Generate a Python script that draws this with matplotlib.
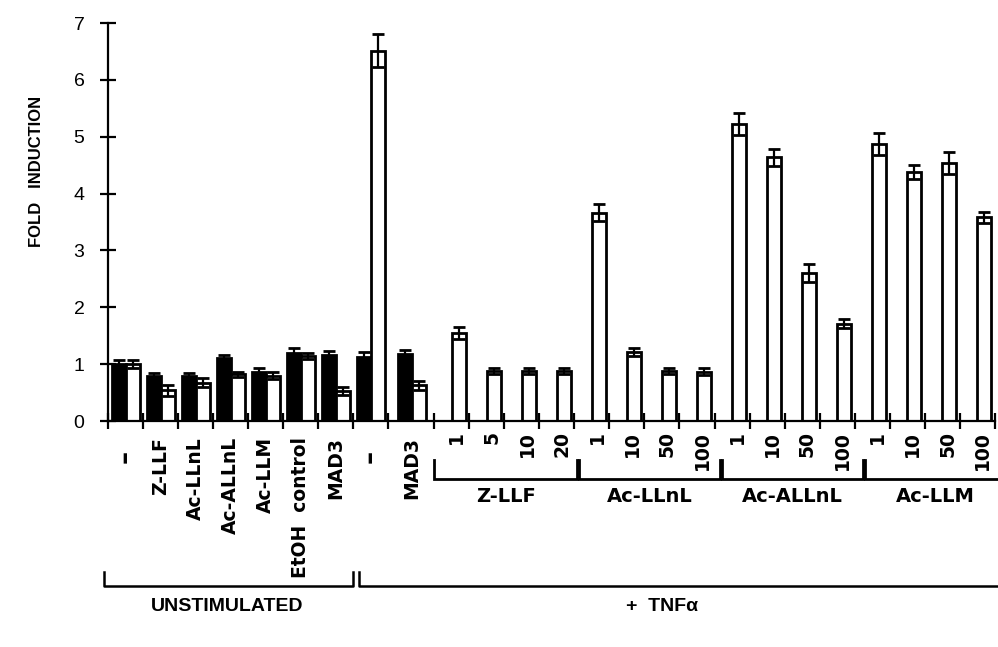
#!/usr/bin/env python3

import matplotlib
matplotlib.use("Agg")
import matplotlib.pyplot as plt
import numpy as np

# ---- data ----
unstim_labels = ["\u2013", "Z-LLF", "Ac-LLnL", "Ac-ALLnL", "Ac-LLM", "EtOH  control", "MAD3"]
unstim_black = [1.00, 0.79, 0.79, 1.10, 0.87, 1.20, 1.16]
unstim_black_err = [0.08, 0.05, 0.06, 0.06, 0.06, 0.08, 0.07]
unstim_white = [1.01, 0.54, 0.67, 0.82, 0.80, 1.14, 0.52]
unstim_white_err = [0.07, 0.10, 0.08, 0.05, 0.07, 0.05, 0.07]

tnf_ctrl_labels = ["\u2013", "MAD3"]
tnf_ctrl_black = [1.13, 1.18]
tnf_ctrl_black_err = [0.09, 0.06]
tnf_ctrl_white = [6.51, 0.63]
tnf_ctrl_white_err = [0.29, 0.08]

inhibitors = ["Z-LLF", "Ac-LLnL", "Ac-ALLnL", "Ac-LLM"]
doses = [["1", "5", "10", "20"],
         ["1", "10", "50", "100"],
         ["1", "10", "50", "100"],
         ["1", "10", "50", "100"]]
tnf_vals = [[1.55, 0.88, 0.88, 0.88],
            [3.66, 1.21, 0.88, 0.87],
            [5.22, 4.64, 2.61, 1.71],
            [4.87, 4.38, 4.54, 3.58]]
tnf_err = [[0.10, 0.06, 0.06, 0.06],
           [0.15, 0.07, 0.06, 0.06],
           [0.19, 0.15, 0.16, 0.08],
           [0.19, 0.12, 0.19, 0.10]]

# ---- layout ----
W, H = 998, 647
fig = plt.figure(figsize=(W / 100, H / 100), dpi=100)
ax = fig.add_axes([108 / W, 1 - 421 / H, (995 - 108) / W, (421 - 23) / H])

bw = 0.4
lw = 2.0
gap = 0.3   # extra room after the TNF MAD3 slot

def px(py):
    # pixel row -> data y
    return (421 - py) / 56.86

def bars(x, vals, errs, color):
    ax.bar(x, vals, width=bw, align="edge", color=color, edgecolor="black",
           linewidth=lw, zorder=2)
    ax.errorbar(np.array(x) + bw / 2, vals, yerr=errs, fmt="none", ecolor="black",
                elinewidth=1.6, capsize=4.5, capthick=2, zorder=3)

# paired bars: unstimulated + TNF controls
pair_slots = np.arange(len(unstim_labels) + len(tnf_ctrl_labels), dtype=float)
shift = np.where(pair_slots == 8, 0.17, 0.0)
black_x = pair_slots + 0.1 + shift
white_x = pair_slots + 0.5 + shift
bars(black_x, unstim_black + tnf_ctrl_black, unstim_black_err + tnf_ctrl_black_err, "black")
bars(white_x, unstim_white + tnf_ctrl_white, unstim_white_err + tnf_ctrl_white_err, "white")

# single white bars: TNF + inhibitor doses
first = len(pair_slots) + gap
dose_slots = first + np.arange(sum(len(d) for d in doses))
bars(dose_slots + 0.5, np.concatenate(tnf_vals), np.concatenate(tnf_err), "white")

ticks = list(np.arange(len(pair_slots))) + list(first + np.arange(len(dose_slots) + 1))
ax.set_xticks(ticks)
ax.set_xticklabels([])
ax.set_xlim(0, first + len(dose_slots))
ax.set_ylim(0, 7)
ax.set_yticks(range(8))

ax.spines["top"].set_visible(False)
ax.spines["right"].set_visible(False)
for s in ["left", "bottom"]:
    ax.spines[s].set_linewidth(1.6)
ax.tick_params(axis="y", direction="inout", length=12, width=1.6, pad=11,
               labelsize=14, labelfontfamily="Liberation Sans")
ax.tick_params(axis="x", direction="inout", length=11, width=1.6)

lab_font = dict(family="DejaVu Sans", fontsize=13.5, fontweight="bold", rotation=90,
                ha="center", va="top", clip_on=False)

# rotated category labels
pair_labels = unstim_labels + tnf_ctrl_labels
for i, lab in enumerate(pair_labels):
    xc = pair_slots[i] + 0.5 + shift[i]
    if lab == "\u2013":
        ax.text(xc, px(450), lab, **{**lab_font, "fontsize": 19})
    else:
        ax.text(xc, px(437), lab, **lab_font)

k = 0
for g, dl in enumerate(doses):
    for d in dl:
        ax.text(dose_slots[k] + 0.65, px(431), d, **lab_font)
        k += 1

# inhibitor brackets
glen = 4.08
for g, name in enumerate(inhibitors):
    x0 = first + g * glen + (0.06 if g else 0)
    x1 = first + (g + 1) * glen
    ax.plot([x0, x0, x1, x1], [px(460), px(479), px(479), px(460)],
            color="black", lw=2, clip_on=False, solid_joinstyle="miter")
    ax.text((x0 + x1) / 2, px(497), name, family="DejaVu Sans", fontsize=14,
            fontweight="bold", ha="center", va="center", clip_on=False)

# bottom brackets
ax.plot([-0.1, -0.1, 7.0, 7.0], [px(572), px(586), px(586), px(572)],
        color="black", lw=1.8, clip_on=False)
ax.plot([7.15, 7.15, first + len(dose_slots) + 0.1], [px(572), px(586), px(586)],
        color="black", lw=1.8, clip_on=False)
ax.text(3.4, px(607), "UNSTIMULATED", family="Liberation Sans", fontsize=14,
        fontweight="bold", ha="center", va="center", clip_on=False)
ax.text(15.8, px(607), "+  TNF\u03b1", family="Liberation Sans", fontsize=14,
        fontweight="bold", ha="center", va="center", clip_on=False)

fig.text(37 / W, 1 - 171 / H, "FOLD   INDUCTION", rotation=90, ha="center",
         va="center", family="Liberation Sans", fontweight="bold", fontsize=12)

fig.savefig("out.png", dpi=100)
